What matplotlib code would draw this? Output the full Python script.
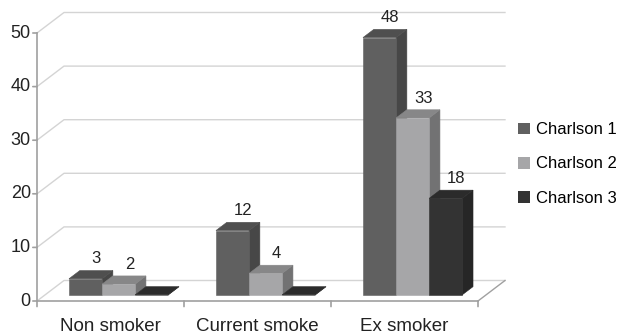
import matplotlib.pyplot as plt
from matplotlib.patches import Polygon, Patch

categories = ["Non smoker", "Current smoke", "Ex smoker"]
series = ["Charlson 1", "Charlson 2", "Charlson 3"]
charlson1 = [3, 12, 48]
charlson2 = [2, 4, 33]
charlson3 = [0, 0, 18]
yticks = [0, 10, 20, 30, 40, 50]

values = [charlson1, charlson2, charlson3]
# front, top, side shades per series
shades = [("#606060", "#4f4f4f", "#474747"),
          ("#a6a6a8", "#878788", "#727273"),
          ("#333333", "#2b2b2b", "#262626")]

plt.rcParams['font.family'] = ['Liberation Sans', 'DejaVu Sans']

fig = plt.figure(figsize=(6.18, 3.34), dpi=100)
ax = fig.add_axes([37 / 618, 1 - 301 / 334, 441 / 618, 268 / 334])
ax.set_xlim(0, 3)
ax.set_ylim(0, 50)
ax.axis('off')

DX = 27 / 147      # depth offset in category units
DY = 20.5 / 5.36   # depth offset in value units


def P(u, v, d):
    return (u + d * DX, v + d * DY)


grid_col = "#d4d4d4"
axis_col = "#a0a0a0"

# back wall gridlines + left side wall
for v in yticks:
    xs, ys = zip(P(0, v, 0), P(0, v, 1), P(3, v, 1))
    ax.plot(xs, ys, color=grid_col, lw=1, clip_on=False, zorder=1)
# floor right edge
xs, ys = zip(P(3, 0, 0), P(3, 0, 1))
ax.plot(xs, ys, color=axis_col, lw=1, clip_on=False, zorder=1)

# front axes
ax.plot([0, 0], [0, 50], color=axis_col, lw=1.2, clip_on=False, zorder=2)
ax.plot([0, 3], [0, 0], color=axis_col, lw=1.2, clip_on=False, zorder=2)
for v in yticks:
    ax.annotate("", (0, v), xytext=(-3, 0), textcoords='offset points',
                arrowprops=dict(arrowstyle='-', color=axis_col, lw=1.2,
                                shrinkA=0, shrinkB=0))
    ax.annotate(str(v), (0, v), xytext=(-4.5, 0), textcoords='offset points',
                ha='right', va='center', fontsize=13, color="#222222")
for k in range(4):
    ax.annotate("", (k, 0), xytext=(0, -4), textcoords='offset points',
                arrowprops=dict(arrowstyle='-', color=axis_col, lw=1.2,
                                shrinkA=0, shrinkB=0))
for k, name in enumerate(categories):
    ax.annotate(name, (k + 0.5, 0), xytext=(0, -12), textcoords='offset points',
                ha='center', va='top', fontsize=13.5, color="#222222")

# bars
bw = 0.225
d0, d1 = 0.3, 0.7
for k in range(len(categories)):
    for s in range(len(series)):
        val = values[s][k]
        u0 = k + 0.5 - 1.5 * bw + s * bw
        u1 = u0 + bw
        front_c, top_c, side_c = shades[s]
        side = [P(u1, 0, d0), P(u1, 0, d1), P(u1, val, d1), P(u1, val, d0)]
        top = [P(u0, val, d0), P(u1, val, d0), P(u1, val, d1), P(u0, val, d1)]
        front = [P(u0, 0, d0), P(u1, 0, d0), P(u1, val, d0), P(u0, val, d0)]
        for pts, c in ((side, side_c), (top, top_c), (front, front_c)):
            ax.add_patch(Polygon(pts, closed=True, facecolor=c, edgecolor=c,
                                 lw=0.4, clip_on=False, zorder=3))
        if val > 0:
            lx, ly = P((u0 + u1) / 2, val, d1)
            ax.annotate(str(val), (lx, ly), xytext=(0, 3), textcoords='offset points',
                        ha='center', va='bottom', fontsize=12, color="#222222",
                        zorder=4, annotation_clip=False)

handles = [Patch(facecolor=shades[i][0], edgecolor='none', label=series[i])
           for i in range(len(series))]
fig.legend(handles=handles, loc='center left', bbox_to_anchor=(518 / 618, 1 - 164 / 334),
           frameon=False, fontsize=12, handlelength=0.7, handleheight=0.7,
           handletextpad=0.35, labelspacing=1.15, borderpad=0, borderaxespad=0)

fig.savefig("out.png", dpi=100)
